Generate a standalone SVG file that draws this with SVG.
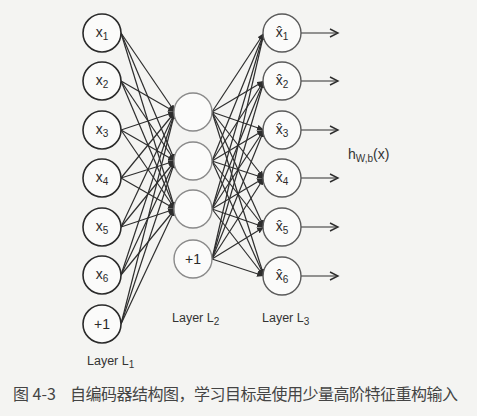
<svg xmlns="http://www.w3.org/2000/svg" width="477" height="416" viewBox="0 0 477 416">
<style>
.bg{fill:#f4f4f2}
.in{fill:#fbfbfa;stroke:#2a2a2a;stroke-width:1.6}
.hid{fill:#fbfbfa;stroke:#8a8a8a;stroke-width:1.4}
.out{fill:#fbfbfa;stroke:#5a5a5a;stroke-width:1.4}
.lbl{font-family:"Liberation Sans","DejaVu Sans",sans-serif;font-size:14px;fill:#2a2a2a;text-anchor:middle}
.sub{font-size:10px}
.layer{font-family:"Liberation Sans","DejaVu Sans",sans-serif;font-size:12.5px;fill:#333}
.conn line{stroke:#2e2e2e;stroke-width:1.2}
.outarrow{stroke:#2e2e2e;stroke-width:1.4;fill:none}
.cap{font-family:"Noto Sans CJK SC",sans-serif;font-size:16px;fill:#444}
</style>
<defs>
<marker id="ah" markerUnits="userSpaceOnUse" markerWidth="8" markerHeight="8" refX="7" refY="3" orient="auto">
<path d="M0,0 L7,3 L0,6 z" fill="#2e2e2e"/>
</marker>
<marker id="open" markerUnits="userSpaceOnUse" markerWidth="12" markerHeight="12" refX="9" refY="5" orient="auto">
<path d="M1,1 L9,5 L1,9" fill="none" stroke="#2e2e2e" stroke-width="1.4"/>
</marker>
</defs>
<rect class="bg" x="0" y="0" width="477" height="416"/>
<g id="connectors" class="conn">
<line x1="121" y1="33" x2="175" y2="112" marker-end="url(#ah)"/>
<line x1="121" y1="33" x2="175" y2="161" marker-end="url(#ah)"/>
<line x1="121" y1="33" x2="175" y2="209" marker-end="url(#ah)"/>
<line x1="121" y1="81" x2="175" y2="112" marker-end="url(#ah)"/>
<line x1="121" y1="81" x2="175" y2="161" marker-end="url(#ah)"/>
<line x1="121" y1="81" x2="175" y2="209" marker-end="url(#ah)"/>
<line x1="121" y1="130" x2="175" y2="112" marker-end="url(#ah)"/>
<line x1="121" y1="130" x2="175" y2="161" marker-end="url(#ah)"/>
<line x1="121" y1="130" x2="175" y2="209" marker-end="url(#ah)"/>
<line x1="121" y1="178" x2="175" y2="112" marker-end="url(#ah)"/>
<line x1="121" y1="178" x2="175" y2="161" marker-end="url(#ah)"/>
<line x1="121" y1="178" x2="175" y2="209" marker-end="url(#ah)"/>
<line x1="121" y1="227" x2="175" y2="112" marker-end="url(#ah)"/>
<line x1="121" y1="227" x2="175" y2="161" marker-end="url(#ah)"/>
<line x1="121" y1="227" x2="175" y2="209" marker-end="url(#ah)"/>
<line x1="121" y1="275" x2="175" y2="112" marker-end="url(#ah)"/>
<line x1="121" y1="275" x2="175" y2="161" marker-end="url(#ah)"/>
<line x1="121" y1="275" x2="175" y2="209" marker-end="url(#ah)"/>
<line x1="121" y1="324" x2="175" y2="112" marker-end="url(#ah)"/>
<line x1="121" y1="324" x2="175" y2="161" marker-end="url(#ah)"/>
<line x1="121" y1="324" x2="175" y2="209" marker-end="url(#ah)"/>
<line x1="212" y1="112" x2="264" y2="33" marker-end="url(#ah)"/>
<line x1="212" y1="112" x2="264" y2="81" marker-end="url(#ah)"/>
<line x1="212" y1="112" x2="264" y2="130" marker-end="url(#ah)"/>
<line x1="212" y1="112" x2="264" y2="178" marker-end="url(#ah)"/>
<line x1="212" y1="112" x2="264" y2="227" marker-end="url(#ah)"/>
<line x1="212" y1="112" x2="264" y2="276" marker-end="url(#ah)"/>
<line x1="212" y1="161" x2="264" y2="33" marker-end="url(#ah)"/>
<line x1="212" y1="161" x2="264" y2="81" marker-end="url(#ah)"/>
<line x1="212" y1="161" x2="264" y2="130" marker-end="url(#ah)"/>
<line x1="212" y1="161" x2="264" y2="178" marker-end="url(#ah)"/>
<line x1="212" y1="161" x2="264" y2="227" marker-end="url(#ah)"/>
<line x1="212" y1="161" x2="264" y2="276" marker-end="url(#ah)"/>
<line x1="212" y1="209" x2="264" y2="33" marker-end="url(#ah)"/>
<line x1="212" y1="209" x2="264" y2="81" marker-end="url(#ah)"/>
<line x1="212" y1="209" x2="264" y2="130" marker-end="url(#ah)"/>
<line x1="212" y1="209" x2="264" y2="178" marker-end="url(#ah)"/>
<line x1="212" y1="209" x2="264" y2="227" marker-end="url(#ah)"/>
<line x1="212" y1="209" x2="264" y2="276" marker-end="url(#ah)"/>
<line x1="212" y1="259" x2="264" y2="33" marker-end="url(#ah)"/>
<line x1="212" y1="259" x2="264" y2="81" marker-end="url(#ah)"/>
<line x1="212" y1="259" x2="264" y2="130" marker-end="url(#ah)"/>
<line x1="212" y1="259" x2="264" y2="178" marker-end="url(#ah)"/>
<line x1="212" y1="259" x2="264" y2="227" marker-end="url(#ah)"/>
<line x1="212" y1="259" x2="264" y2="276" marker-end="url(#ah)"/>
<line class="outarrow" x1="301" y1="33" x2="338" y2="33" marker-end="url(#open)"/>
<line class="outarrow" x1="301" y1="81" x2="338" y2="81" marker-end="url(#open)"/>
<line class="outarrow" x1="301" y1="130" x2="338" y2="130" marker-end="url(#open)"/>
<line class="outarrow" x1="301" y1="178" x2="338" y2="178" marker-end="url(#open)"/>
<line class="outarrow" x1="301" y1="227" x2="338" y2="227" marker-end="url(#open)"/>
<line class="outarrow" x1="301" y1="276" x2="338" y2="276" marker-end="url(#open)"/>
</g>
<g id="in1"><circle class="in" cx="102" cy="33" r="19"/><text class="lbl" x="102" y="37">x<tspan class="sub" dy="3">1</tspan></text></g>
<g id="in2"><circle class="in" cx="102" cy="81" r="19"/><text class="lbl" x="102" y="85">x<tspan class="sub" dy="3">2</tspan></text></g>
<g id="in3"><circle class="in" cx="102" cy="130" r="19"/><text class="lbl" x="102" y="134">x<tspan class="sub" dy="3">3</tspan></text></g>
<g id="in4"><circle class="in" cx="102" cy="178" r="19"/><text class="lbl" x="102" y="182">x<tspan class="sub" dy="3">4</tspan></text></g>
<g id="in5"><circle class="in" cx="102" cy="227" r="19"/><text class="lbl" x="102" y="231">x<tspan class="sub" dy="3">5</tspan></text></g>
<g id="in6"><circle class="in" cx="102" cy="275" r="19"/><text class="lbl" x="102" y="279">x<tspan class="sub" dy="3">6</tspan></text></g>
<g id="inb"><circle class="in" cx="102" cy="324" r="19"/><text class="lbl" x="102" y="329">+1</text></g>
<g id="h1"><circle class="hid" cx="193" cy="112" r="19"/></g>
<g id="h2"><circle class="hid" cx="193" cy="161" r="19"/></g>
<g id="h3"><circle class="hid" cx="193" cy="209" r="19"/></g>
<g id="hb"><circle class="hid" cx="193" cy="259" r="19"/><text class="lbl" x="193" y="264">+1</text></g>
<g id="o1"><circle class="out" cx="282" cy="33" r="19"/><text class="lbl" x="282" y="37">x̂<tspan class="sub" dy="3">1</tspan></text></g>
<g id="o2"><circle class="out" cx="282" cy="81" r="19"/><text class="lbl" x="282" y="85">x̂<tspan class="sub" dy="3">2</tspan></text></g>
<g id="o3"><circle class="out" cx="282" cy="130" r="19"/><text class="lbl" x="282" y="134">x̂<tspan class="sub" dy="3">3</tspan></text></g>
<g id="o4"><circle class="out" cx="282" cy="178" r="19"/><text class="lbl" x="282" y="182">x̂<tspan class="sub" dy="3">4</tspan></text></g>
<g id="o5"><circle class="out" cx="282" cy="227" r="19"/><text class="lbl" x="282" y="231">x̂<tspan class="sub" dy="3">5</tspan></text></g>
<g id="o6"><circle class="out" cx="282" cy="276" r="19"/><text class="lbl" x="282" y="280">x̂<tspan class="sub" dy="3">6</tspan></text></g>
<g id="hwb"><text class="layer" x="348" y="159" style="font-size:14px">h<tspan class="sub" dy="3">W,b</tspan><tspan dy="-3">(x)</tspan></text></g>
<g id="labels">
<text class="layer" x="87" y="365">Layer L<tspan class="sub" dy="3">1</tspan></text>
<text class="layer" x="172" y="322">Layer L<tspan class="sub" dy="3">2</tspan></text>
<text class="layer" x="262" y="322">Layer L<tspan class="sub" dy="3">3</tspan></text>
</g>
<g id="caption">
<text class="cap" x="13" y="400">图 4-3</text>
<text class="cap" x="70" y="400" textLength="388" lengthAdjust="spacing">自编码器结构图，学习目标是使用少量高阶特征重构输入</text>
</g>
</svg>
